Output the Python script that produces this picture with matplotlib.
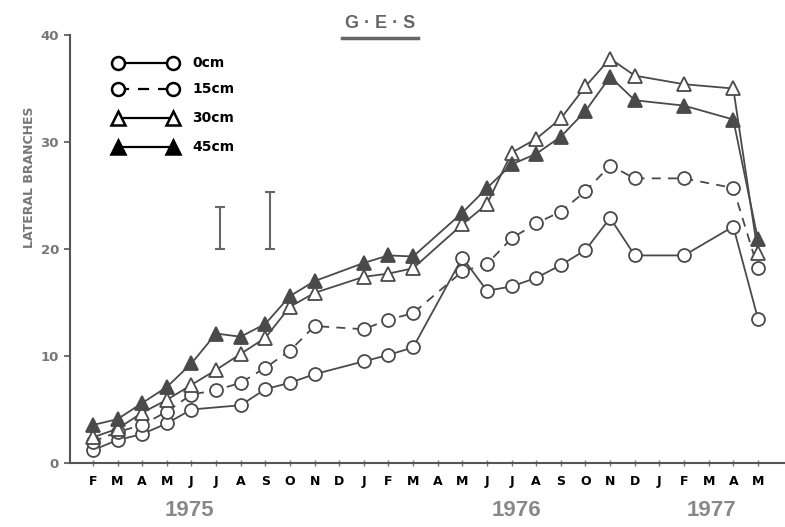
import matplotlib
matplotlib.use("Agg")
import matplotlib.pyplot as plt
import matplotlib.transforms as mtransforms

# ---- data ----
months = ["F", "M", "A", "M", "J", "J", "A", "S", "O", "N", "D", "J", "F", "M",
          "A", "M", "J", "J", "A", "S", "O", "N", "D", "J", "F", "M", "A", "M"]
years = ["1975", "1976", "1977"]
year_pos = [3.9, 17.2, 25.1]

series_labels = ["0cm", "15cm", "30cm", "45cm"]

x_0cm = [0, 1, 2, 3, 4, 6, 7, 8, 9, 11, 12, 13, 15, 16, 17, 18, 19, 20, 21, 22, 24, 26, 27]
y_0cm = [1.2, 2.15, 2.7, 3.7, 5.0, 5.4, 6.9, 7.5, 8.3, 9.5, 10.1, 10.8,
         19.2, 16.1, 16.5, 17.3, 18.5, 19.9, 22.9, 19.4, 19.4, 22.1, 13.5]

x_other = [0, 1, 2, 3, 4, 5, 6, 7, 8, 9, 11, 12, 13, 15, 16, 17, 18, 19, 20, 21, 22, 24, 26, 27]
y_15cm = [2.0, 2.9, 3.55, 4.8, 6.4, 6.8, 7.5, 8.9, 10.5, 12.8, 12.5, 13.4, 14.0,
          17.9, 18.6, 21.0, 22.4, 23.5, 25.4, 27.8, 26.6, 26.6, 25.7, 18.2]
y_30cm = [2.4, 3.2, 4.7, 5.9, 7.3, 8.7, 10.2, 11.7, 14.6, 15.9, 17.4, 17.7, 18.2,
          22.3, 24.2, 29.0, 30.3, 32.2, 35.2, 37.8, 36.2, 35.4, 35.0, 19.6]
y_45cm = [3.55, 4.1, 5.6, 7.1, 9.3, 12.1, 11.8, 13.0, 15.6, 17.0, 18.7, 19.4, 19.3,
          23.4, 25.7, 27.9, 28.9, 30.5, 32.9, 36.1, 33.9, 33.4, 32.1, 20.9]

# LSD bars: (x position, low, high)
lsd_x = [5.15, 7.2]
lsd_low = [20.0, 20.0]
lsd_high = [23.9, 25.3]

plt.rcParams['font.family'] = ['Liberation Sans', 'DejaVu Sans']

fig = plt.figure(figsize=(7.85, 5.27), dpi=100)
ax = fig.add_axes([70 / 785, 1 - 463 / 527, 1 - 70 / 785, (463 - 35) / 527])

lc = "#4a4a4a"
ms = 9.3
lw = 1.3
styles = [
    dict(ls="-", marker="o", ms=ms, filled=False),
    dict(ls=(0, (5, 4)), marker="o", ms=ms, filled=False),
    dict(ls="-", marker="^", ms=ms + 0.7, filled=False),
    dict(ls="-", marker="^", ms=ms + 0.7, filled=True),
]
xs = [x_0cm, x_other, x_other, x_other]
ys = [y_0cm, y_15cm, y_30cm, y_45cm]

for i, (xv, yv, st) in enumerate(zip(xs, ys, styles)):
    ax.plot(xv, yv, color=lc, lw=lw, ls=st["ls"], marker=st["marker"], ms=st["ms"],
            mfc=lc if st["filled"] else "white", mec=lc, mew=1.3, zorder=3 + i)

for x, lo, hi in zip(lsd_x, lsd_low, lsd_high):
    ax.errorbar([x], [(lo + hi) / 2], yerr=[(hi - lo) / 2], fmt="none",
                ecolor="#666666", elinewidth=1.5, capsize=3.5, capthick=1.5)

ax.set_xlim(-0.93, 28.1)
ax.set_ylim(0, 40)

for s in ["top", "right"]:
    ax.spines[s].set_visible(False)
for s in ["left", "bottom"]:
    ax.spines[s].set_color("#555555")
    ax.spines[s].set_linewidth(1.5)

ax.set_xticks(range(len(months)))
ax.set_xticklabels(months, fontsize=9, fontweight="bold", color="black",
                   family="DejaVu Sans")
ax.set_yticks([0, 10, 20, 30, 40])
ax.set_yticklabels(["0", "10", "20", "30", "40"], fontsize=9.5,
                   fontweight="bold", color="#777777", family="DejaVu Sans")
ax.tick_params(axis="y", direction="out", length=4, width=1.2, colors="#555555",
               labelcolor="#777777", pad=4)
ax.tick_params(axis="x", direction="inout", length=5, width=1.0, colors="#777777",
               labelcolor="black", pad=6)

# manual legend (markers at both ends of the line, like the original)
leg_rows = [0.9346, 0.8738, 0.8061, 0.7383]
for lab, st, yy in zip(series_labels, styles, leg_rows):
    ax.plot([0.067, 0.144], [yy, yy], transform=ax.transAxes, clip_on=False,
            color="black", lw=1.6, ls=st["ls"], marker=st["marker"], ms=st["ms"],
            mfc="black" if st["filled"] else "white", mec="black", mew=1.8, zorder=6)
    ax.text(0.171, yy, lab, transform=ax.transAxes, ha="left", va="center",
            fontsize=10, fontweight="bold", color="black", family="DejaVu Sans")

fig.text(30 / 785, 1 - 177 / 527, "LATERAL BRANCHES", rotation=90, ha="center",
         va="center", fontsize=9, fontweight="bold", color="#777777",
         family="DejaVu Sans")
fig.text(380 / 785, 1 - 24 / 527, "G · E · S", ha="center", va="center",
         fontsize=13, fontweight="bold", color="#666666")
fig.add_artist(plt.Line2D([342 / 785, 418 / 785], [1 - 38 / 527, 1 - 38 / 527],
                          color="#666666", lw=2.5))

trans = mtransforms.blended_transform_factory(ax.transData, fig.transFigure)
for yr, xp in zip(years, year_pos):
    ax.text(xp, 1 - 511 / 527, yr, transform=trans, ha="center", va="center",
            fontsize=16, fontweight="bold", color="#888888")

fig.savefig("out.png", dpi=100, facecolor="white")
